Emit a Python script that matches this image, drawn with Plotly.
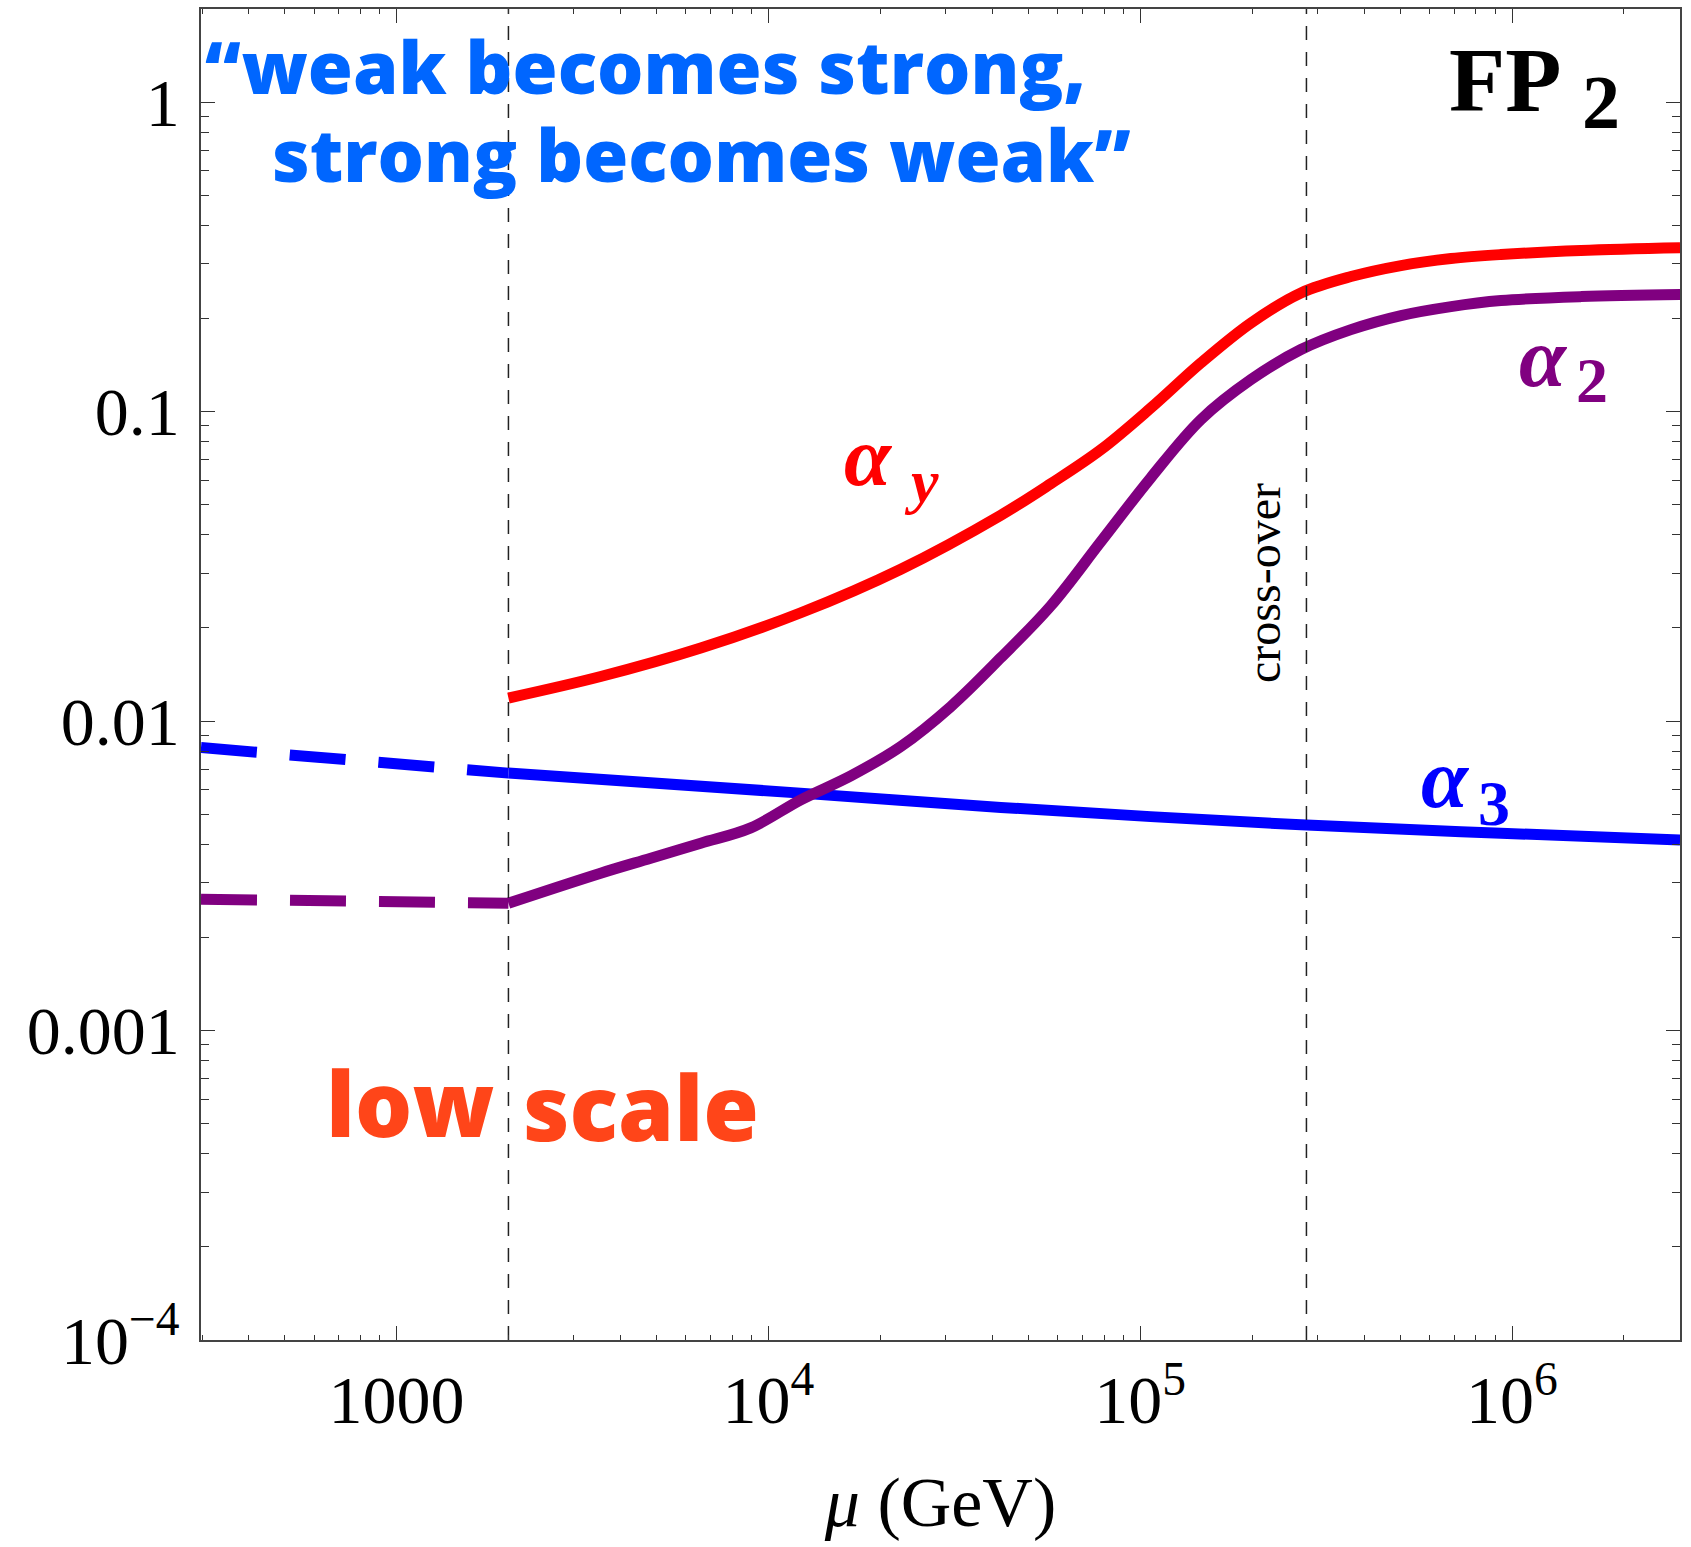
import math
import plotly.graph_objects as go

# ---- running couplings towards the fixed point FP2 (mu in GeV) ----
# below the matching scale the couplings are shown dashed
MU_DASHED = [298, 2000]
ALPHA3_DASHED = [0.00821, 0.00679]
ALPHA2_DASHED = [0.002657, 0.00258]

ALPHA3_MU = [2000, 12200, 42200, 270600, 934100, 2831000]
ALPHA3 = [0.00679, 0.00585, 0.00526, 0.00462, 0.00434, 0.00413]

ALPHA2_MU = [2000, 3540, 4827, 6579, 8968, 12224, 16663, 22713, 30960, 42200,
             57520, 78410, 106850, 145650, 198600, 270600, 368800, 502800,
             685500, 934100, 1533000, 2831000]
ALPHA2 = [0.00258, 0.003226, 0.003606, 0.004032, 0.004519, 0.005566, 0.006654,
          0.008276, 0.01114, 0.01602, 0.02359, 0.03800, 0.06117, 0.09422,
          0.1269, 0.1587, 0.1841, 0.2044, 0.2185, 0.2285, 0.2353, 0.2389]

ALPHAY_MU = [2000, 3540, 6579, 12224, 22713, 42200, 57520, 78410, 106850,
             145650, 198600, 270600, 368800, 502800, 685500, 934100, 1533000,
             2831000]
ALPHAY = [0.01187, 0.01393, 0.01722, 0.02239, 0.03096, 0.04628, 0.05851,
          0.07535, 0.1028, 0.1437, 0.1935, 0.2419, 0.2732, 0.2965, 0.3124,
          0.3218, 0.3315, 0.3382]

MATCHING_SCALE = 2000
CROSSOVER_SCALE = 280000

X_RANGE = [298, 2.83e6]
Y_RANGE = [1e-4, 2.0]

X_TICKS = [1e3, 1e4, 1e5, 1e6]
X_TICK_TEXT = ["1000", "10<sup>4</sup>", "10<sup>5</sup>", "10<sup>6</sup>"]
Y_TICKS = [1e-4, 1e-3, 1e-2, 1e-1, 1]
Y_TICK_TEXT = ["10<sup>\u22124</sup>", "0.001", "0.01", "0.1", "1"]

RED = "#ff0000"
PURPLE = "#800080"
BLUE = "#0000ff"
QUOTE_BLUE = "#0066ff"
ORANGE = "#ff4519"

W, H = 1691, 1547
L, R, T, B = 201, 11, 9, 207


def px(x):
    return (x - L) / (W - L - R)


def py(y):
    return (H - B - y) / (H - T - B)


fig = go.Figure()

LW = 11
dash_long = "56px,33px"
fig.add_trace(go.Scatter(x=MU_DASHED, y=ALPHA3_DASHED, mode="lines",
                         line=dict(color=BLUE, width=LW, dash=dash_long)))
fig.add_trace(go.Scatter(x=MU_DASHED, y=ALPHA2_DASHED, mode="lines",
                         line=dict(color=PURPLE, width=LW, dash=dash_long)))
fig.add_trace(go.Scatter(x=ALPHA3_MU, y=ALPHA3, mode="lines",
                         line=dict(color=BLUE, width=LW, shape="spline", smoothing=1.0)))
fig.add_trace(go.Scatter(x=ALPHA2_MU, y=ALPHA2, mode="lines",
                         line=dict(color=PURPLE, width=LW, shape="spline", smoothing=1.0)))
fig.add_trace(go.Scatter(x=ALPHAY_MU, y=ALPHAY, mode="lines",
                         line=dict(color=RED, width=LW, shape="spline", smoothing=1.0)))

# matching scale and cross-over scale
for xv in (MATCHING_SCALE, CROSSOVER_SCALE):
    fig.add_trace(go.Scatter(x=[xv, xv], y=Y_RANGE, mode="lines",
                             line=dict(color="#222222", width=1.5, dash="14px,12px")))

minor_x = [k * 10 ** e for e in range(2, 7) for k in range(2, 10)]
minor_y = [k * 10.0 ** e for e in range(-4, 1) for k in range(2, 10)]

axis_common = dict(
    showgrid=False, zeroline=False, showline=True, linecolor="#444444",
    linewidth=1.5, mirror="allticks", ticks="inside", tickcolor="#333333",
    tickwidth=1.3, ticklen=14,
    tickfont=dict(family="Liberation Serif", size=68, color="black"),
)

fig.update_xaxes(type="log", range=[math.log10(v) for v in X_RANGE],
                 tickmode="array", tickvals=X_TICKS, ticktext=X_TICK_TEXT,
                 minor=dict(tickmode="array", tickvals=minor_x, ticks="inside",
                            ticklen=5, tickcolor="#333333", tickwidth=1.2),
                 title=dict(text="<i>\u03bc</i> (GeV)", standoff=40,
                            font=dict(family="Liberation Serif", size=70, color="black")),
                 **axis_common)
fig.update_yaxes(type="log", range=[math.log10(v) for v in Y_RANGE],
                 tickmode="array", tickvals=Y_TICKS, ticktext=Y_TICK_TEXT,
                 ticklabelstandoff=6,
                 minor=dict(tickmode="array", tickvals=minor_y, ticks="inside",
                            ticklen=8.5, tickcolor="#333333", tickwidth=1.2),
                 **axis_common)

SANS = "Open Sans"
SERIF = "Liberation Serif"


def label(text, x, y, size, color, family, xanchor="left", weight="normal",
          style="normal", angle=0):
    fig.add_annotation(text=text, x=px(x), y=py(y), xref="paper", yref="paper",
                       xanchor=xanchor, yanchor="middle", showarrow=False,
                       textangle=angle,
                       font=dict(family=family, size=size, color=color,
                                 weight=weight, style=style))


label("\u201cweak becomes strong,", 203, 66, 73, QUOTE_BLUE, SANS, weight=800)
label("strong becomes weak\u201d", 270, 154, 73, QUOTE_BLUE, SANS, weight=800)
label("low", 324, 1102, 90, ORANGE, SANS, weight=800)
label("scale", 521, 1106, 90, ORANGE, SANS, weight=800)

label("FP", 1447, 80, 92, "black", SERIF, weight="bold")
label("2", 1580, 102, 76, "black", SERIF, weight="bold")

label("\u03b1", 842, 456, 85, RED, SERIF, weight="bold", style="italic")
label("y", 902, 481, 62, RED, SERIF, weight="bold", style="italic")
label("\u03b1", 1517, 357, 85, PURPLE, SERIF, weight="bold", style="italic")
label("2", 1574, 381, 64, PURPLE, SERIF, weight="bold")
label("\u03b1", 1419, 778, 85, BLUE, SERIF, weight="bold", style="italic")
label("3", 1476, 803, 64, BLUE, SERIF, weight="bold")

label("cross-over", 1263, 583, 48, "black", SERIF, xanchor="center", angle=-90)

fig.update_layout(
    width=W, height=H, margin=dict(l=L, r=R, t=T, b=B, autoexpand=False),
    paper_bgcolor="white", plot_bgcolor="white", showlegend=False,
)

fig.write_html("out.html")
